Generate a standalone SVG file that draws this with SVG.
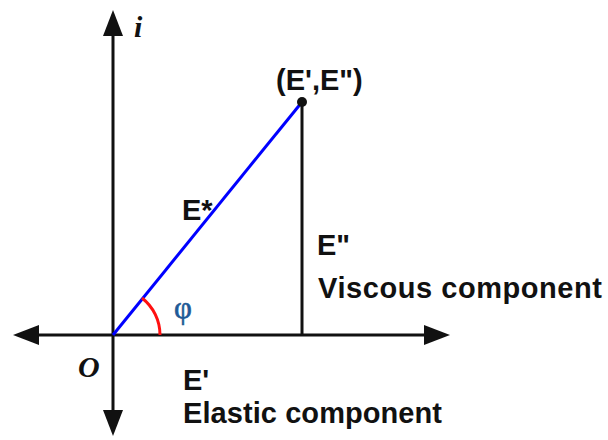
<svg xmlns="http://www.w3.org/2000/svg" width="608" height="440" viewBox="0 0 608 440">
<style>
.lbl{font-family:"Liberation Sans",Arial,sans-serif;font-weight:bold;font-size:29px;fill:#111}
.ax{font-family:"Liberation Serif","Times New Roman",serif;font-weight:bold;font-style:italic;font-size:30px;fill:#111}
.axis{stroke:#111;stroke-width:3;fill:none}
</style>
<defs>
<marker id="ah" markerUnits="userSpaceOnUse" markerWidth="26" markerHeight="20" viewBox="0 0 26 20" refX="1" refY="10" orient="auto-start-reverse">
<path d="M0,0 L26,10 L0,20 Z" fill="#111"/>
</marker>
</defs>
<rect width="608" height="440" fill="#fff"/>
<g id="connectors">
<line class="axis" x1="38" y1="335" x2="425" y2="335" marker-start="url(#ah)" marker-end="url(#ah)"/>
<line class="axis" x1="113" y1="411" x2="113" y2="35" marker-start="url(#ah)" marker-end="url(#ah)"/>
<line x1="302" y1="102" x2="302" y2="335" stroke="#111" stroke-width="3"/>
<line x1="113" y1="335" x2="302" y2="102" stroke="#0000ff" stroke-width="3"/>
<path d="M160,335 A47,47 0 0 0 142,298" stroke="#ff1010" stroke-width="3" fill="none"/>
</g>
<g id="axis-i"><text class="ax" x="134" y="37" font-size="36px">i</text></g>
<g id="origin"><text class="ax" x="78" y="377" font-size="31px">O</text></g>
<g id="point">
<circle cx="302" cy="102" r="5" fill="#111"/>
<text class="lbl" x="276" y="90">(E',E")</text>
</g>
<g id="e-star"><text class="lbl" x="182" y="220">E*</text></g>
<g id="phi"><text x="174" y="318" font-family="'Liberation Serif','Times New Roman',serif" font-size="31px" fill="#1f5a96" stroke="#1f5a96" stroke-width="0.6">φ</text></g>
<g id="viscous">
<text class="lbl" x="317" y="255">E"</text>
<text class="lbl" x="318" y="298" textLength="284">Viscous component</text>
</g>
<g id="elastic">
<text class="lbl" x="183" y="390">E'</text>
<text class="lbl" x="183" y="423" textLength="259">Elastic component</text>
</g>
</svg>
